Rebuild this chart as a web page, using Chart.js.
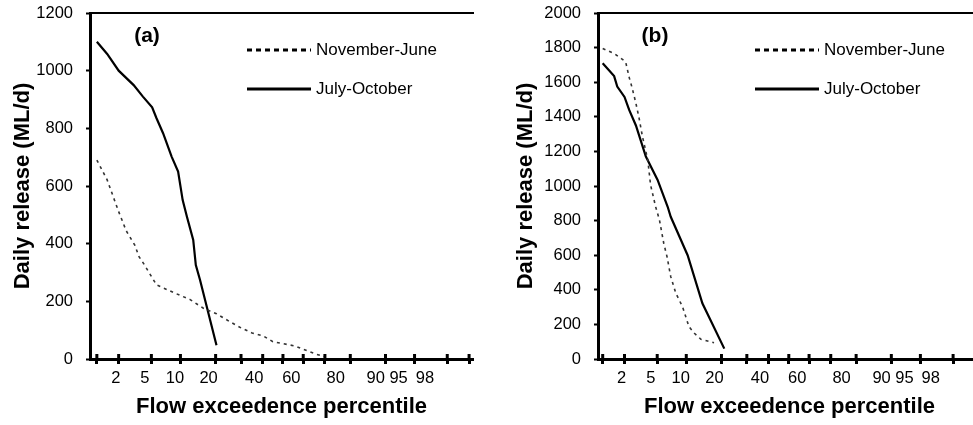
<!DOCTYPE html>
<html><head><meta charset="utf-8">
<script src="https://cdn.jsdelivr.net/npm/chart.js@4.4.1/dist/chart.umd.min.js"></script>
<style>
html,body{margin:0;padding:0;background:#fff;overflow:hidden;width:973px;height:425px}
canvas{position:absolute;top:0}
</style></head><body>
<canvas id="ca" width="490" height="425" style="left:0"></canvas>
<canvas id="cb" width="500" height="425" style="left:490px"></canvas>
<script>
// ---------- data ----------
const seriesNames = ['November-June', 'July-October'];
const panelLabels = ['(a)', '(b)'];
const xTickPercentiles = [1, 2, 5, 10, 20, 30, 40, 50, 60, 70, 80, 90, 95, 98, 99];
const xTickLabels = ['2', '5', '10', '20', '40', '60', '80', '90', '95', '98'];

// panel (a): exceedence percentile and daily release (ML/d)
const aNovJunPct = [1.0, 1.4, 2.0, 2.5, 3.2, 3.6, 4.2, 4.7, 5.7, 8.9, 12.3, 16, 20.3, 25.4, 30, 35, 40.3, 45, 56, 61, 66, 70];
const aNovJunVal = [690, 621, 511, 445, 395, 355, 325, 300, 257, 228, 206, 176, 157, 129, 108, 90, 80, 60, 45, 31, 17, 8];
const aJulOctPct = [1.0, 1.4, 2.0, 3.1, 4.0, 5.1, 5.7, 6.7, 8.2, 9.5, 10.5, 11.5, 13.1, 13.8, 15, 20.3];
const aJulOctVal = [1100, 1058, 1000, 950, 910, 873, 835, 783, 702, 650, 551, 493, 413, 326, 274, 48];

// panel (b)
const bNovJunPct = [1.0, 1.46, 2.07, 2.3, 2.5, 2.8, 3.07, 3.37, 3.9, 4.2, 4.8, 5.3, 5.9, 6.4, 7.0, 7.9, 9.2, 10.6, 11.9, 13.6, 17.5];
const bNovJunVal = [1795, 1765, 1718, 1628, 1570, 1478, 1390, 1285, 1150, 1006, 880, 803, 669, 591, 476, 380, 302, 187, 149, 114, 94];
const bJulOctPct = [1.0, 1.45, 1.6, 2.0, 2.3, 2.8, 3.7, 5.05, 6.5, 7.0, 10.3, 14, 21];
const bJulOctVal = [1710, 1635, 1575, 1515, 1440, 1350, 1170, 1035, 880, 822, 600, 322, 60];

const yMaxA = 1200, yMaxB = 2000, yStep = 200;

// ---------- helpers ----------
function probit(p) { // inverse standard normal CDF (Acklam)
  const a=[-3.969683028665376e+01,2.209460984245205e+02,-2.759285104469687e+02,1.383577518672690e+02,-3.066479806614716e+01,2.506628277459239e+00];
  const b=[-5.447609879822406e+01,1.615858368580409e+02,-1.556989798598866e+02,6.680131188771972e+01,-1.328068155288572e+01];
  const c=[-7.784894002430293e-03,-3.223964580411365e-01,-2.400758277161838e+00,-2.549732539343734e+00,4.374664141464968e+00,2.938163982698783e+00];
  const d=[7.784695709041462e-03,3.224671290700398e-01,2.445134137142996e+00,3.754408661907416e+00];
  const pl=0.02425, ph=1-pl; let q, r;
  if (p < pl) { q=Math.sqrt(-2*Math.log(p)); return (((((c[0]*q+c[1])*q+c[2])*q+c[3])*q+c[4])*q+c[5])/((((d[0]*q+d[1])*q+d[2])*q+d[3])*q+1); }
  if (p <= ph) { q=p-0.5; r=q*q; return (((((a[0]*r+a[1])*r+a[2])*r+a[3])*r+a[4])*r+a[5])*q/(((((b[0]*r+b[1])*r+b[2])*r+b[3])*r+b[4])*r+1); }
  q=Math.sqrt(-2*Math.log(1-p)); return -(((((c[0]*q+c[1])*q+c[2])*q+c[3])*q+c[4])*q+c[5])/((((d[0]*q+d[1])*q+d[2])*q+d[3])*q+1);
}
const toPoints = (pct, val) => pct.map((p, i) => ({ x: probit(p / 100), y: val[i] }));

const FAMILY = "'Liberation Sans', Arial, Helvetica, sans-serif";
Chart.defaults.font.family = FAMILY;
Chart.defaults.color = '#000';

// tick-label anchor positions (layout, in normal-score units) as placed in the original figure
const labelAnchorZ = [-2.09, -1.725, -1.35, -0.93, -0.36, 0.105, 0.66, 1.16, 1.445, 1.775];

// tick marks crossing the x axis (upper half inside plot)
const crossTicks = {
  id: 'crossTicks',
  afterDraw(chart) {
    const s = chart.scales.x, ca = chart.chartArea, ctx = chart.ctx;
    ctx.save(); ctx.strokeStyle = '#000'; ctx.lineWidth = 3;
    s.ticks.forEach(t => {
      const px = s.getPixelForValue(t.value);
      ctx.beginPath(); ctx.moveTo(px, ca.bottom); ctx.lineTo(px, ca.bottom - 5); ctx.stroke();
    });
    ctx.restore();
  }
};

const panelDecor = {
  id: 'panelDecor',
  afterDraw(chart, args, o) {
    const { ctx, chartArea: ca } = chart;
    ctx.save();
    // panel label
    ctx.font = 'bold 21px ' + FAMILY; ctx.fillStyle = '#000';
    ctx.textAlign = 'center'; ctx.textBaseline = 'middle';
    ctx.fillText(o.label, ca.left + 57, ca.top + 23);
    // legend
    ctx.font = '17px ' + FAMILY; ctx.textAlign = 'left';
    chart.data.datasets.forEach((ds, i) => {
      const y = ca.top + (i === 0 ? 37 : 76);
      const x0 = ca.left + 157;
      ctx.strokeStyle = '#000'; ctx.lineWidth = 3;
      ctx.setLineDash(i === 0 ? [5, 4] : []);
      ctx.beginPath(); ctx.moveTo(x0, y); ctx.lineTo(x0 + 64, y); ctx.stroke();
      ctx.setLineDash([]);
      ctx.fillText(ds.label, x0 + 69, y);
    });
    ctx.restore();
  }
};

function makePanel(id, cfg) {
  const zmin = cfg.zmin, zmax = zmin + 383 / 80;
  return new Chart(document.getElementById(id), {
    type: 'line',
    data: {
      datasets: [
        { label: seriesNames[0], data: toPoints(cfg.nPct, cfg.nVal), xAxisID: 'x', yAxisID: 'y',
          borderColor: '#333', borderWidth: 1.6, borderDash: [3, 4], pointRadius: 0, tension: 0, fill: false },
        { label: seriesNames[1], data: toPoints(cfg.jPct, cfg.jVal), xAxisID: 'x', yAxisID: 'y',
          borderColor: '#000', borderWidth: 2.2, pointRadius: 0, tension: 0, fill: false }
      ]
    },
    options: {
      responsive: false, animation: false, devicePixelRatio: 1,
      layout: { padding: { left: 0, right: cfg.padRight, top: 13, bottom: 0 } },
      plugins: { legend: { display: false }, tooltip: { enabled: false }, panelDecor: { label: cfg.label } },
      scales: {
        x: {
          type: 'linear', position: 'bottom', weight: 0, min: zmin, max: zmax,
          afterBuildTicks: s => { s.ticks = xTickPercentiles.map(p => ({ value: probit(p / 100) })); },
          ticks: { display: false },
          grid: { display: true, drawOnChartArea: false, drawTicks: true, tickLength: 5, tickWidth: 3, color: '#000' },
          border: { display: true, width: 3, color: '#000' },
          afterFit: s => { s.height = 6; s.paddingLeft = 0; s.paddingRight = 0; }
        },
        xl: {
          type: 'linear', position: 'bottom', weight: 1, min: zmin, max: zmax,
          afterBuildTicks: s => { s.ticks = labelAnchorZ.map(v => ({ value: v })); },
          ticks: { autoSkip: false, maxRotation: 0, minRotation: 0, padding: 4, color: '#000',
                   font: { size: 16.5, lineHeight: 1.2 }, callback: (v, i) => xTickLabels[i] },
          grid: { display: false, drawTicks: false },
          border: { display: false },
          title: { display: true, text: 'Flow exceedence percentile', color: '#000',
                   font: { size: 22, weight: 'bold', lineHeight: 1.2 }, padding: { top: 0, bottom: 5 } },
          afterFit: s => { s.height = 60; s.paddingLeft = 0; s.paddingRight = 0; }
        },
        xt: {
          type: 'linear', position: 'top', min: zmin, max: zmax,
          ticks: { display: false },
          grid: { display: false, drawTicks: false },
          border: { display: true, width: 2, color: '#000' },
          afterFit: s => { s.height = 0; s.paddingLeft = 0; s.paddingRight = 0; }
        },
        y: {
          type: 'linear', position: 'left', min: 0, max: cfg.ymax,
          ticks: { stepSize: yStep, padding: 13, color: '#000', font: { size: 16.5 }, callback: v => String(v) },
          grid: { display: true, drawOnChartArea: false, drawTicks: true, tickLength: 4, tickWidth: 2, color: '#000' },
          border: { display: true, width: 3, color: '#000' },
          title: { display: true, text: 'Daily release (ML/d)', color: '#000',
                   font: { size: 22, weight: 'bold', lineHeight: 1.2 }, padding: { top: cfg.titlePad, bottom: 0 } },
          afterFit: s => { s.width = cfg.yWidth; s.paddingTop = 0; s.paddingBottom = 0; }
        }
      }
    },
    plugins: [crossTicks, panelDecor]
  });
}

makePanel('ca', { label: panelLabels[0], nPct: aNovJunPct, nVal: aNovJunVal, jPct: aJulOctPct, jVal: aJulOctVal,
  ymax: yMaxA, zmin: -2.412, padRight: 17, yWidth: 90, titlePad: 10 });
makePanel('cb', { label: panelLabels[1], nPct: bNovJunPct, nVal: bNovJunVal, jPct: bJulOctPct, jVal: bJulOctVal,
  ymax: yMaxB, zmin: -2.385, padRight: 9, yWidth: 108, titlePad: 23 });
</script>
</body></html>
